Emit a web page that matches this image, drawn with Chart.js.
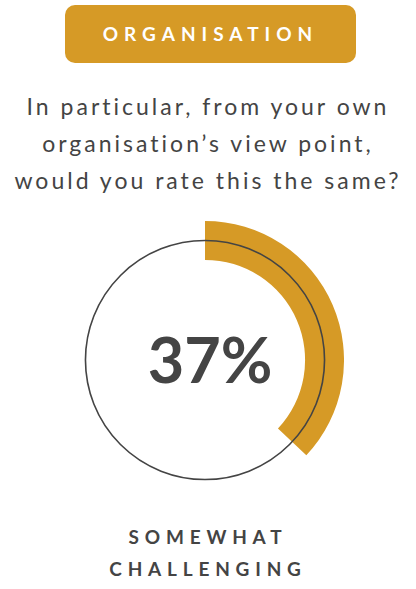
<!DOCTYPE html>
<html>
<head>
<meta charset="utf-8">
<script src="https://cdn.jsdelivr.net/npm/chart.js@4"></script>
<style>
  body { margin: 0; width: 416px; height: 589px; background: #ffffff; position: relative; overflow: hidden; font-family: Lato, "Open Sans", sans-serif; color: #444444; }
  .badge { position: absolute; left: 65px; top: 5px; width: 291px; height: 58px; border-radius: 10px; background: #d69a26;
           color: #ffffff; font-weight: 700; font-size: 19px; letter-spacing: 6px; text-align: center; line-height: 58px; }
  .question { position: absolute; left: 0; top: 88px; width: 416px; text-align: center; font-size: 23px; letter-spacing: 3px; line-height: 37px; }
  .chartBox { position: absolute; left: 66px; top: 221px; width: 278px; height: 278px; }
  .center { position: absolute; left: 110px; top: 319px; width: 200px; text-align: center; font-weight: 700; font-size: 63px; line-height: 80px; }
  .label { position: absolute; left: 0; top: 521px; width: 416px; text-align: center; font-weight: 700; font-size: 19px; letter-spacing: 5.8px; line-height: 32px; }
</style>
</head>
<body>
<div class="badge">ORGANISATION</div>
<div class="question">In particular, from your own<br>organisation’s view point,<br>would you rate this the same?</div>
<div class="chartBox"><canvas id="ring"></canvas></div>
<div class="center" id="pct"></div>
<div class="label">SOMEWHAT<br>CHALLENGING</div>
<script>
// data
const categories = ['Somewhat challenging', 'Rest'];
const values = [37, 63];
const colors = ['#d69a26', 'rgba(0,0,0,0)'];

document.getElementById('pct').textContent = values[0] + '%';

// thin grey circle running through the middle of the ring
const midCircle = {
  id: 'midCircle',
  afterDatasetsDraw(chart) {
    const arc = chart.getDatasetMeta(0).data[0];
    if (!arc) return;
    const ctx = chart.ctx;
    const r = (arc.innerRadius + arc.outerRadius) / 2;
    ctx.save();
    ctx.beginPath();
    ctx.arc(arc.x, arc.y, r, 0, Math.PI * 2);
    ctx.strokeStyle = '#444444';
    ctx.lineWidth = 1.6;
    ctx.stroke();
    ctx.restore();
  }
};

const ctx = document.getElementById('ring').getContext('2d');
new Chart(ctx, {
  type: 'doughnut',
  data: {
    labels: categories,
    datasets: [{
      data: values,
      backgroundColor: colors,
      borderWidth: 0
    }]
  },
  options: {
    responsive: true,
    maintainAspectRatio: false,
    animation: false,
    cutout: '72%',
    plugins: {
      legend: { display: false },
      tooltip: { enabled: false }
    }
  },
  plugins: [midCircle]
});
</script>
</body>
</html>
